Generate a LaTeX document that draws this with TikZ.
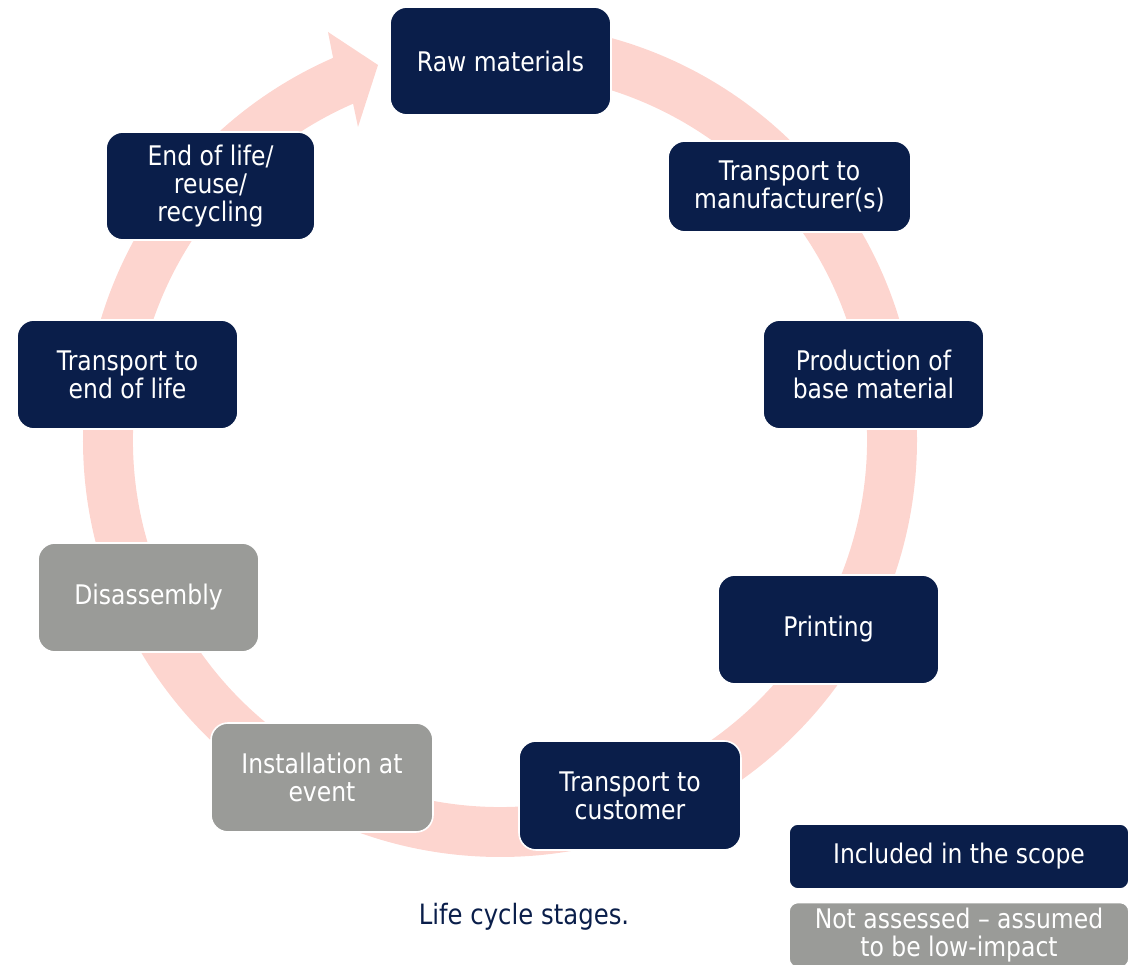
\documentclass[tikz,border=0pt]{standalone}
\usepackage{fontspec}
\setmainfont{DejaVu Sans}[FakeStretch=0.87]
\definecolor{navy}{HTML}{0A1E4A}
\definecolor{stonegray}{HTML}{9A9B98}
\definecolor{ringpink}{HTML}{FDD5CF}
\begin{document}
\begin{tikzpicture}[x=1pt,y=1pt,
  stage/.style={rounded corners=17pt, draw=white, line width=1.6pt, text=white,
    align=center, inner sep=0pt, font=\fontsize{27}{28}\selectfont},
  incl/.style={stage, fill=navy},
  excl/.style={stage, fill=stonegray},
]
\useasboundingbox (0,0) rectangle (1130,965);
% ring arrow
\begin{scope}[shift={(500,525)}]
  \fill[ringpink] (88:417) arc[start angle=88, end angle=-246.4, radius=417]
    -- (-172,408) -- (-122,375) -- (-142,313)
    -- (113.6:367) arc[start angle=-246.4, end angle=88, radius=367] -- cycle;
\end{scope}
% stages
\node[incl, minimum width=221, minimum height=108] (raw) at (500.5,904) {Raw materials};
\node[incl, minimum width=243, minimum height=91] (tm) at (789.5,778.5) {Transport to\\manufacturer(s)};
\node[incl, minimum width=221, minimum height=109] (prod) at (873.5,590.5) {Production of\\base material};
\node[incl, minimum width=221, minimum height=109] (print) at (828.5,335.5) {Printing};
\node[incl, minimum width=222, minimum height=109] (tc) at (630,169.5) {Transport to\\customer};
\node[excl, minimum width=222, minimum height=109] (inst) at (322,187.5) {Installation at\\event};
\node[excl, minimum width=221, minimum height=109] (dis) at (148.5,367.5) {Disassembly};
\node[incl, minimum width=221, minimum height=109] (tel) at (127.5,590.5) {Transport to\\end of life};
\node[incl, minimum width=209, minimum height=108] (eol) at (210.5,779) {End of life/\\reuse/\\recycling};
% legend
\node[incl, rounded corners=9pt, minimum width=340, minimum height=65] (leg1) at (959,108.5) {Included in the scope};
\node[excl, rounded corners=9pt, minimum width=340, minimum height=65] (leg2) at (959,30) {Not assessed – assumed\\to be low-impact};
% caption
\node[text=navy, font=\fontsize{28}{30}\selectfont] (cap) at (524,48) {Life cycle stages.};
\end{tikzpicture}
\end{document}
